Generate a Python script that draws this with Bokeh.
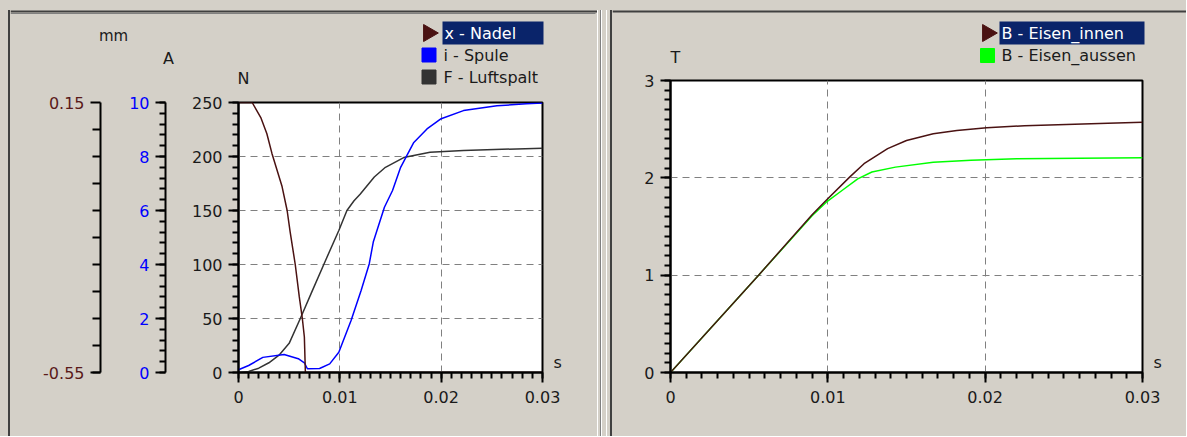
import math
from bokeh.plotting import figure
from bokeh.models import Range1d, LinearAxis, FixedTicker, Div
from bokeh.layouts import row, column
from bokeh.core.properties import value
from bokeh.embed import file_html
from bokeh.resources import INLINE

# ---------------- data ----------------
# left chart
t_nadel = [0.0, 0.00135, 0.0022, 0.0028, 0.0033, 0.0043, 0.0048, 0.0051, 0.0056, 0.0060, 0.0063, 0.0065, 0.0066, 0.0300]
x_nadel = [0.15, 0.15, 0.111, 0.069, 0.018, -0.068, -0.130, -0.186, -0.270, -0.354, -0.410, -0.458, -0.550, -0.550]

t_spule = [0.0, 0.0010, 0.0024, 0.0045, 0.0059, 0.0065, 0.0068, 0.0080, 0.0090, 0.0099, 0.0111, 0.0121,
           0.0129, 0.0133, 0.0144, 0.0152, 0.0160, 0.0167, 0.0173, 0.0186, 0.0200, 0.0222, 0.0255, 0.0284, 0.0300]
i_spule = [0.10, 0.26, 0.56, 0.67, 0.51, 0.36, 0.14, 0.15, 0.32, 0.75, 1.92, 3.04,
           4.02, 4.83, 6.12, 6.74, 7.60, 8.10, 8.52, 9.02, 9.40, 9.70, 9.88, 9.95, 9.98]

t_luft = [0.0, 0.001, 0.002, 0.003, 0.004, 0.005, 0.0061, 0.0073, 0.0086, 0.0099, 0.0107, 0.0114,
          0.0120, 0.0134, 0.0145, 0.0163, 0.0189, 0.0222, 0.0300]
f_luft = [0.0, 1.0, 4.0, 9.0, 16.0, 27.0, 50.0, 76.0, 104.0, 131.5, 150.0, 159.0,
          165.0, 181.0, 190.0, 199.0, 204.0, 205.6, 207.7]

# right chart
t_innen = [0.0, 0.0056, 0.0090, 0.0099, 0.0114, 0.0123, 0.0138, 0.0150, 0.0167, 0.0182, 0.0201, 0.0225, 0.0278, 0.0300]
b_innen = [0.0, 1.0, 1.62, 1.77, 2.01, 2.145, 2.30, 2.384, 2.453, 2.487, 2.515, 2.535, 2.562, 2.57]
t_aussen = [0.0, 0.0056, 0.0090, 0.0099, 0.0109, 0.0119, 0.0128, 0.0143, 0.0167, 0.0191, 0.0220, 0.0300]
b_aussen = [0.0, 1.0, 1.61, 1.75, 1.87, 1.99, 2.06, 2.11, 2.16, 2.18, 2.196, 2.206]

# ticks / labels
x_ticks = [0.0, 0.01, 0.02, 0.03]
x_tick_labels = ["0", "0.01", "0.02", "0.03"]
n_ticks = [0, 50, 100, 150, 200, 250]
a_ticks = [0, 2, 4, 6, 8, 10]
mm_ticks = [-0.55, 0.15]
mm_tick_labels = ["-0.55", "0.15"]
t_ticks = [0, 1, 2, 3]
unit_time = "s"
units_left = ["mm", "A", "N"]
unit_right = "T"

legend_left = ["x - Nadel", "i - Spule", "F - Luftspalt"]
legend_right = ["B - Eisen_innen", "B - Eisen_aussen"]

# ---------------- style ----------------
BG = "#D4D0C8"
BROWN = "#4A1212"
BLUE = "#0000FF"
DARK = "#333333"
GREEN = "#00FF00"
NAVY = "#0A246A"
FONT = "DejaVu Sans"
FS = "16px"

W_EDGE, W_L, W_SEP, W_R = 10, 587, 15, 574
H_TOTAL = 436
HH_L, HH_R = 88, 70
X0L = W_EDGE
X0R = W_EDGE + W_L + W_SEP


def style_axis(ax, color="#1A1A1A"):
    ax.axis_line_color = "black"
    ax.axis_line_width = 2
    ax.major_tick_line_color = "black"
    ax.major_tick_line_width = 2
    ax.minor_tick_line_color = "black"
    ax.minor_tick_line_width = 2
    ax.major_tick_out = 10
    ax.major_tick_in = 0
    ax.minor_tick_out = 6
    ax.minor_tick_in = 0
    ax.major_label_text_font = FONT
    ax.major_label_text_font_size = FS
    ax.major_label_text_color = color
    ax.major_label_standoff = 6


def unit_axis(pos, standoff):
    ax = LinearAxis(ticker=FixedTicker(ticks=[pos], minor_ticks=[]),
                    major_label_overrides={pos: unit_time})
    ax.axis_line_color = None
    ax.major_tick_line_color = None
    ax.minor_tick_line_color = None
    ax.major_tick_out = 0
    ax.minor_tick_out = 0
    ax.major_label_standoff = standoff
    ax.major_label_text_font = FONT
    ax.major_label_text_font_size = FS
    ax.major_label_text_color = "#1A1A1A"
    return ax


def chart(width, height, y_range, mb_left, mb_right, mb_top, mb_bottom):
    p = figure(width=width, height=height, output_backend="svg", toolbar_location=None,
               x_range=Range1d(0, 0.03), y_range=y_range, frame_align=False,
               min_border_left=mb_left, min_border_right=mb_right,
               min_border_top=mb_top, min_border_bottom=mb_bottom)
    p.background_fill_color = "white"
    p.border_fill_color = BG
    p.outline_line_color = "black"
    p.outline_line_width = 2
    xa = p.xaxis[0]
    style_axis(xa)
    xa.major_label_standoff = 8
    xa.ticker = FixedTicker(ticks=x_ticks, minor_ticks=[i / 1000 for i in range(31)])
    xa.major_label_overrides = {v: s for v, s in zip(x_ticks, x_tick_labels)}
    for g in (p.xgrid[0], p.ygrid[0]):
        g.grid_line_color = "#808080"
        g.grid_line_dash = "7 5"
        g.grid_line_width = 1
    p.xgrid[0].ticker = FixedTicker(ticks=x_ticks)
    return p


def header(x0, width, height):
    # pixel-coordinate header strip (page coordinates), holds units and legend
    h = figure(width=width, height=height, output_backend="svg", toolbar_location=None,
               x_range=Range1d(x0, x0 + width), y_range=Range1d(height, 0), frame_align=False,
               x_axis_location=None, y_axis_location=None, min_border=0)
    h.grid.visible = False
    h.outline_line_color = None
    h.background_fill_color = BG
    h.border_fill_color = BG
    return h


def txt(h, x, y, s, color="#1A1A1A", align="left", size=FS):
    h.text(x=[x], y=[y], text=[s], text_color=color, text_align=align,
           text_baseline="middle", text_font=value(FONT), text_font_size=value(size))


# ---------------- left chart ----------------
H_CL = H_TOTAL - HH_L
p1 = chart(W_L, H_CL, Range1d(0, 250), 238 - X0L, X0L + W_L - 542, 102 - HH_L, HH_L + H_CL - 372)
p1.extra_y_ranges = {"A": Range1d(0, 10), "mm": Range1d(-0.55, 0.15)}

ya = p1.yaxis[0]
style_axis(ya)
ya.ticker = FixedTicker(ticks=n_ticks, minor_ticks=list(range(0, 251, 10)))
ya.axis_label = " "
ya.axis_label_text_font_size = "1px"
ya.axis_label_standoff = 19
p1.ygrid[0].ticker = FixedTicker(ticks=n_ticks)

ax_a = LinearAxis(y_range_name="A")
style_axis(ax_a, BLUE)
ax_a.ticker = FixedTicker(ticks=a_ticks, minor_ticks=[i * 0.4 for i in range(26)])
ax_a.axis_label = " "
ax_a.axis_label_text_font_size = "1px"
ax_a.axis_label_standoff = 22
p1.add_layout(ax_a, "left")

ax_mm = LinearAxis(y_range_name="mm")
style_axis(ax_mm, "#5A1A1A")
ax_mm.ticker = FixedTicker(ticks=mm_ticks, minor_ticks=[-0.55 + 0.07 * i for i in range(11)])
ax_mm.minor_tick_out = 8
ax_mm.major_label_overrides = {v: s for v, s in zip(mm_ticks, mm_tick_labels)}
p1.add_layout(ax_mm, "left")

p1.add_layout(unit_axis(9, 11), "right")

p1.line(t_luft, f_luft, line_color=DARK, line_width=1.5)
p1.line(t_spule, i_spule, line_color=BLUE, line_width=1.5, y_range_name="A")
p1.line(t_nadel, x_nadel, line_color=BROWN, line_width=1.5, y_range_name="mm")

# ---------------- left header ----------------
h1 = header(X0L, W_L, HH_L)
h1.segment(x0=[X0L], y0=[11], x1=[X0L + W_L], y1=[11], line_color="#404040", line_width=2)
h1.segment(x0=[X0L], y0=[13], x1=[X0L + W_L - 2], y1=[13], line_color="#808080", line_width=1)
txt(h1, 113, 35, units_left[0], align="center", size="15px")
txt(h1, 168, 58, units_left[1], align="center")
txt(h1, 243, 78, units_left[2], align="center")
h1.scatter(x=[428], y=[32.5], marker="triangle", size=17, angle=-math.pi / 2,
           fill_color=BROWN, line_color=BROWN)
h1.quad(left=[442], right=[543], top=[21], bottom=[44], fill_color=NAVY, line_color=None)
txt(h1, 444, 32.5, legend_left[0], color="white")
h1.scatter(x=[428.5, 428.5], y=[54.5, 76.5], marker="square", size=14,
           fill_color=[BLUE, DARK], line_color=[BLUE, DARK])
txt(h1, 443, 55, legend_left[1])
txt(h1, 443, 77, legend_left[2])

# ---------------- right chart ----------------
H_CR = H_TOTAL - HH_R
p2 = chart(W_R, H_CR, Range1d(0, 3), 670 - X0R, X0R + W_R - 1142, 80 - HH_R, HH_R + H_CR - 372)
yb = p2.yaxis[0]
style_axis(yb)
yb.ticker = FixedTicker(ticks=t_ticks, minor_ticks=[i / 10 for i in range(31)])
p2.ygrid[0].ticker = FixedTicker(ticks=t_ticks)
p2.add_layout(unit_axis(0.1, 11), "right")

p2.line(t_aussen, b_aussen, line_color=GREEN, line_width=1.5)
p2.line(t_innen, b_innen, line_color=BROWN, line_width=1.5)

# ---------------- right header ----------------
h2 = header(X0R, W_R, HH_R)
h2.segment(x0=[X0R], y0=[11], x1=[X0R + W_R], y1=[11], line_color="#404040", line_width=2)
txt(h2, 675, 57, unit_right, align="center")
h2.scatter(x=[987], y=[32.5], marker="triangle", size=17, angle=-math.pi / 2,
           fill_color=BROWN, line_color=BROWN)
h2.quad(left=[999], right=[1144], top=[21], bottom=[44], fill_color=NAVY, line_color=None)
txt(h2, 1001, 32.5, legend_right[0], color="white")
h2.scatter(x=[987], y=[55], marker="square", size=14, fill_color=GREEN, line_color=GREEN)
txt(h2, 1001, 55, legend_right[1])

# ---------------- panel borders ----------------
edge = Div(text="", width=W_EDGE, height=H_TOTAL, margin=(0, 0, 0, 0),
           styles={"background": "linear-gradient(to bottom, #D4D0C8 0px, #D4D0C8 10px, transparent 10px), "
                                 "linear-gradient(to right, #D4D0C8 0px, #D4D0C8 8px, #404040 8px, #404040 10px)"})
sep = Div(text="", width=W_SEP, height=H_TOTAL, margin=(0, 0, 0, 0),
          styles={"background": "linear-gradient(to bottom, #D4D0C8 0px, #D4D0C8 10px, transparent 10px), "
                                "linear-gradient(to right, #FFFFFF 0px, #FFFFFF 1px, #D4D0C8 1px, "
                                "#D4D0C8 3px, #808080 3px, #808080 4px, #FFFFFF 4px, #FFFFFF 5px, "
                                "#D4D0C8 5px, #D4D0C8 9px, #FFFFFF 9px, #FFFFFF 10px, #D4D0C8 10px, "
                                "#D4D0C8 13px, #404040 13px, #404040 15px)"})

layout = row(edge, column(h1, p1, styles={"background-color": BG}), sep,
             column(h2, p2, styles={"background-color": BG}),
             styles={"background-color": BG})
open("out.html", "w").write(file_html(layout, INLINE))
